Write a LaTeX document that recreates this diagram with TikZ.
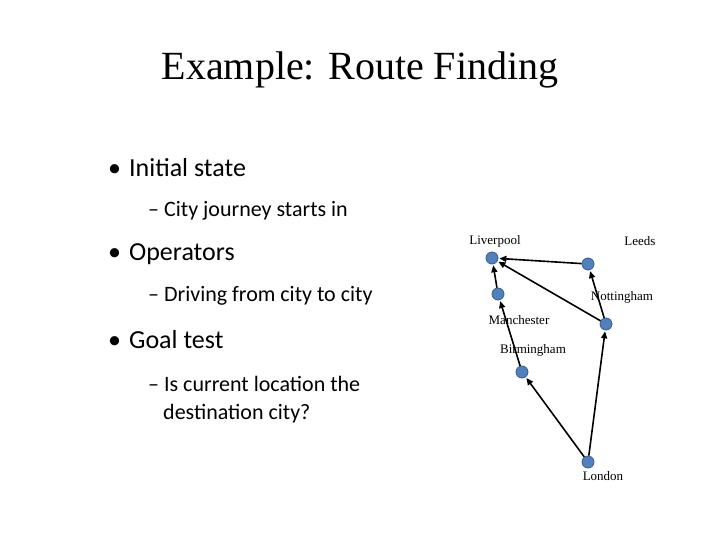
\documentclass[tikz,border=0pt]{standalone}
\usepackage{fontspec}
\setmainfont{Liberation Serif}
\newfontfamily\bodyfont{Carlito}
\usetikzlibrary{arrows.meta}
\definecolor{nodeblue}{RGB}{79,129,189}
\definecolor{nodeedge}{RGB}{56,93,138}
\tikzset{
  city/.style={circle,fill=nodeblue,draw=nodeedge,line width=0.8pt,minimum size=12pt,inner sep=0pt},
  lab/.style={font=\fontsize{13}{13}\selectfont,inner sep=0pt},
  road/.style={line width=1.6pt,-{Triangle[length=7pt,width=6pt]},shorten >=1pt},
  bul/.style={anchor=west,font=\bodyfont\fontsize{26}{26}\selectfont,inner sep=0pt},
  sub/.style={anchor=west,font=\bodyfont\fontsize{22}{22}\selectfont,inner sep=0pt}
}
\begin{document}
\begin{tikzpicture}[x=1pt,y=-1pt]
\useasboundingbox (0,0) rectangle (720,540);
\node[font=\fontsize{40}{40}\selectfont,inner sep=0pt] (title) at (360,70) {Example: Route Finding};
\node[bul] (b1) at (108,168) {•\hspace{8pt}Initial state};
\node[sub] (s1) at (148,211) {– City journey starts in};
\node[bul] (b2) at (108,254) {•\hspace{8pt}Operators};
\node[sub] (s2) at (148,296) {– Driving from city to city};
\node[bul] (b3) at (108,340) {•\hspace{8pt}Goal test};
\node[sub] (s3) at (148,384) {– Is current location the};
\node[sub] (s4) at (163,414) {destination city?};
\node[city] (liv) at (492,258) {};
\node[city] (lee) at (588,264) {};
\node[city] (man) at (498,294) {};
\node[city] (not) at (606,324) {};
\node[city] (bir) at (522,372) {};
\node[city] (lon) at (588,462) {};
\node[lab] (lliv) at (495,241) {Liverpool};
\node[lab] (llee) at (640,241) {Leeds};
\node[lab] (lnot) at (622,297) {Nottingham};
\node[lab] (lman) at (519,320) {Manchester};
\node[lab] (lbir) at (533,350) {Birmingham};
\node[lab] (llon) at (603,476) {London};
\draw[road] (lon) -- (bir);
\draw[road] (bir) -- (man);
\draw[road] (man) -- (liv);
\draw[road] (lon) -- (not);
\draw[road] (not) -- (lee);
\draw[road] (lee) -- (liv);
\draw[road] (not) -- (liv);
\end{tikzpicture}
\end{document}
